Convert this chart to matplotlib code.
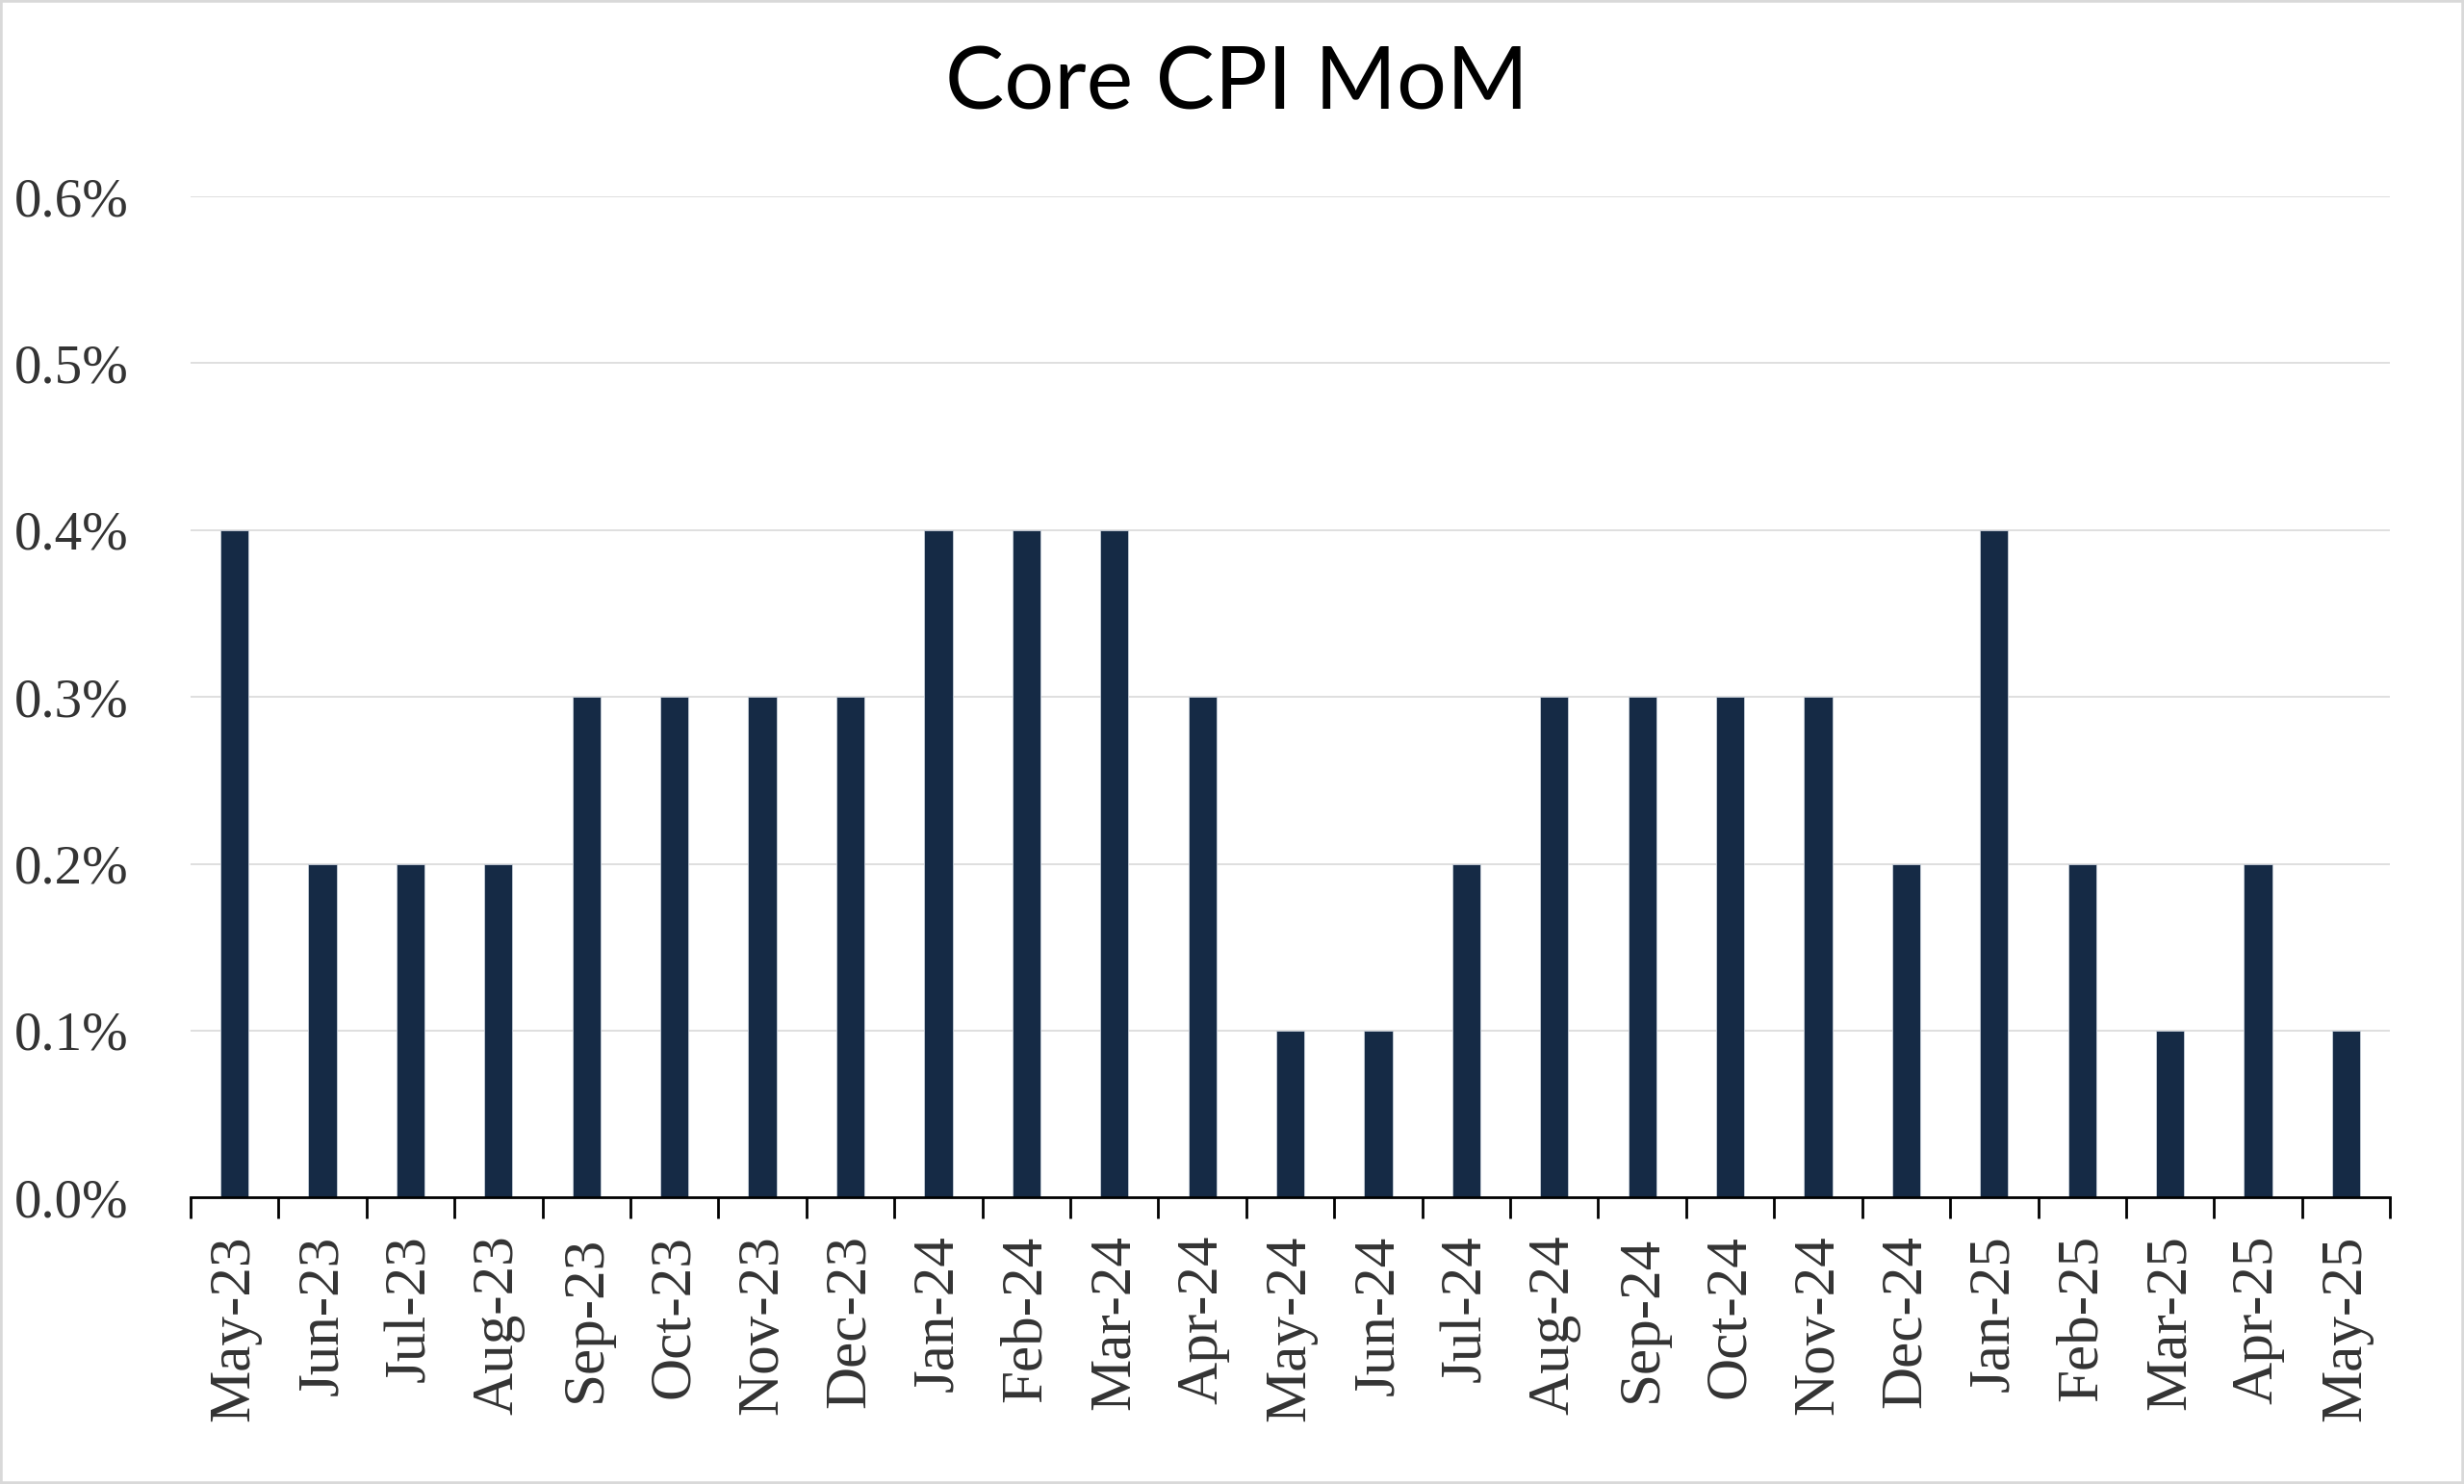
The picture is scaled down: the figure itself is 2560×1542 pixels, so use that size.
import matplotlib
matplotlib.use("Agg")
import matplotlib.pyplot as plt
import numpy as np
from matplotlib.patches import Rectangle

months = ["May-23", "Jun-23", "Jul-23", "Aug-23", "Sep-23", "Oct-23", "Nov-23", "Dec-23",
          "Jan-24", "Feb-24", "Mar-24", "Apr-24", "May-24", "Jun-24", "Jul-24", "Aug-24",
          "Sep-24", "Oct-24", "Nov-24", "Dec-24", "Jan-25", "Feb-25", "Mar-25", "Apr-25", "May-25"]
core_cpi_mom = [0.4, 0.2, 0.2, 0.2, 0.3, 0.3, 0.3, 0.3,
                0.4, 0.4, 0.4, 0.3, 0.1, 0.1, 0.2, 0.3,
                0.3, 0.3, 0.3, 0.2, 0.4, 0.2, 0.1, 0.2, 0.1]
yticks = [0.0, 0.1, 0.2, 0.3, 0.4, 0.5, 0.6]
ytick_labels = ["0.0%", "0.1%", "0.2%", "0.3%", "0.4%", "0.5%", "0.6%"]

fig = plt.figure(figsize=(25.6, 15.42), dpi=100)
fig.patch.set_facecolor("white")
fig.patches.append(Rectangle((0, 0), 1, 1, transform=fig.transFigure, fill=False,
                             edgecolor="#d9d9d9", linewidth=4, zorder=10))

ax = fig.add_axes([0.0773, 0.193, 0.8927, 0.6747])
x = np.arange(len(months))
ax.bar(x, core_cpi_mom, width=0.32, color="#152a45", edgecolor="#c8d0da", linewidth=0.6, zorder=3)

ax.set_xlim(-0.5, len(months) - 0.5)
ax.set_ylim(0, 0.6)
ax.set_yticks(yticks)
ax.set_yticklabels(ytick_labels, family="Liberation Serif", fontsize=41, color="#333333")
ax.tick_params(axis="y", length=0, pad=46)
ax.yaxis.grid(True, color="#d9d9d9", linewidth=1.2, zorder=0)
ax.set_axisbelow(True)

ax.set_xticks(x)
ax.set_xticklabels(months, rotation=90, family="Liberation Serif", fontsize=44, color="#333333")
ax.tick_params(axis="x", which="major", length=0, pad=28)
ax.set_xticks(np.arange(-0.5, len(months), 1.0), minor=True)
ax.tick_params(axis="x", which="minor", length=16, width=2, color="black", direction="out")

for s in ["top", "right", "left"]:
    ax.spines[s].set_visible(False)
ax.spines["bottom"].set_color("black")
ax.spines["bottom"].set_linewidth(2)
ax.spines["bottom"].set_zorder(4)

fig.text(0.502, 0.943, "Core CPI MoM", ha="center", va="center", fontsize=66,
         family="Lato", weight="normal", color="black")

fig.savefig("out.png", dpi=100)
